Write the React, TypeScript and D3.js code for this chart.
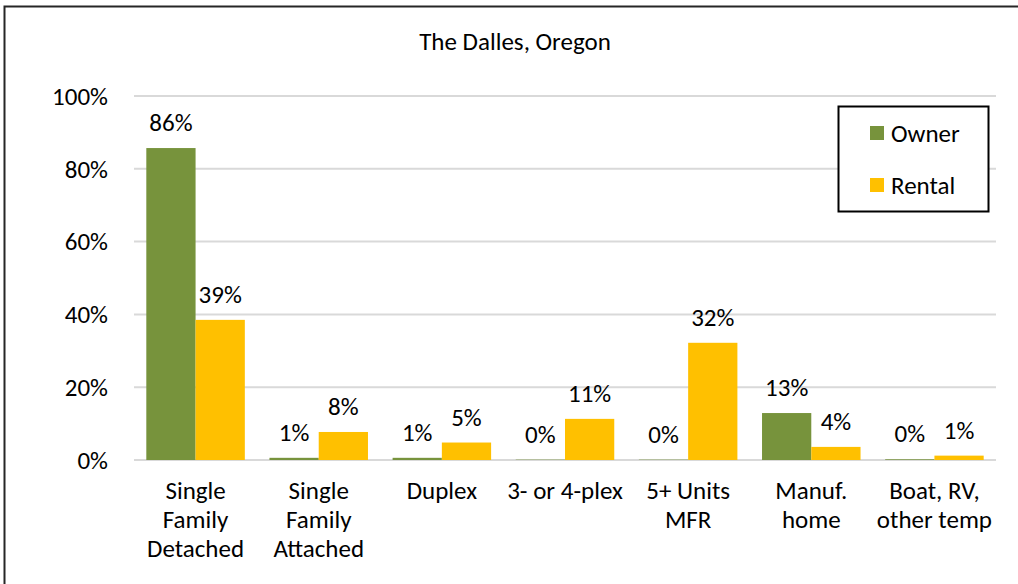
import React from "react";
import * as d3 from "d3";

// housing type breakdown, The Dalles
const categories = [
  ["Single", "Family", "Detached"],
  ["Single", "Family", "Attached"],
  ["Duplex"],
  ["3- or 4-plex"],
  ["5+ Units", "MFR"],
  ["Manuf.", "home"],
  ["Boat, RV,", "other temp"],
];
const owner = [0.857, 0.006, 0.006, 0.001, 0.001, 0.129, 0.002];
const rental = [0.385, 0.077, 0.048, 0.113, 0.322, 0.036, 0.012];
const seriesNames = ["Owner", "Rental"];
const colors = ["#77933C", "#FFC000"];
const yTicks = [0, 0.2, 0.4, 0.6, 0.8, 1];

const W = 1018;
const H = 584;
const font = "Carlito, Calibri, Lato, sans-serif";
const fs = 25;

export default function App() {
  const x = d3.scaleBand<number>().domain(d3.range(categories.length)).range([134, 996]).paddingInner(0).paddingOuter(0);
  const y = d3.scaleLinear().domain([0, 1]).range([460, 96]);
  const fmt = d3.format(".0%");
  const band = x.bandwidth();
  const inner = d3.scaleBand<number>().domain([0, 1]).range([band * 0.1, band * 0.9]);
  const series = [owner, rental];

  return (
    <svg width={W} height={H} style={{ position: "absolute", left: 0, top: 0, display: "block" }}>
      <rect x={0} y={0} width={W} height={H} fill="#fff" />
      <rect x={4.5} y={6.5} width={W + 20} height={H + 20} fill="none" stroke="#262626" strokeWidth={2} />
      <text x={515} y={50} textAnchor="middle" fontFamily={font} fontSize={fs} fill="#000">
        The Dalles, Oregon
      </text>
      {yTicks.map((t) => (
        <g key={t}>
          <line x1={134} x2={996} y1={y(t)} y2={y(t)} stroke="#D9D9D9" strokeWidth={2} />
          <text x={108} y={y(t)} dy="0.35em" textAnchor="end" fontFamily={font} fontSize={fs} fill="#000">
            {fmt(t)}
          </text>
        </g>
      ))}
      {series.map((vals, s) =>
        vals.map((v, i) => {
          const bx = (x(i) ?? 0) + (inner(s) ?? 0);
          return (
            <g key={`${s}-${i}`}>
              <rect x={bx} y={y(v)} width={inner.bandwidth()} height={y(0) - y(v)} fill={colors[s]} />
              <text x={bx + inner.bandwidth() / 2} y={y(v) - 17} textAnchor="middle" fontFamily={font} fontSize={fs} fill="#000">
                {fmt(v)}
              </text>
            </g>
          );
        })
      )}
      {categories.map((lines, i) => (
        <text key={i} x={(x(i) ?? 0) + band / 2} y={499} textAnchor="middle" fontFamily={font} fontSize={fs} fill="#000">
          {lines.map((l, k) => (
            <tspan key={k} x={(x(i) ?? 0) + band / 2} dy={k === 0 ? 0 : 29}>
              {l}
            </tspan>
          ))}
        </text>
      ))}
      <rect x={838.5} y={106.5} width={150} height={105} fill="#fff" stroke="#000" strokeWidth={2} />
      {seriesNames.map((n, s) => (
        <g key={n}>
          <rect x={870} y={126 + s * 52} width={14} height={14} fill={colors[s]} />
          <text x={891} y={133 + s * 52} dy="0.35em" fontFamily={font} fontSize={fs} fill="#000">
            {n}
          </text>
        </g>
      ))}
    </svg>
  );
}
